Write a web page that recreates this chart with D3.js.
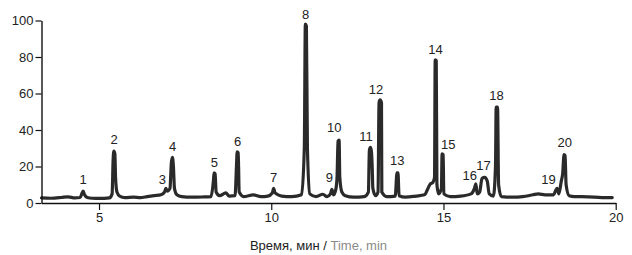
<!DOCTYPE html>
<html><head><meta charset="utf-8">
<script src="https://cdn.jsdelivr.net/npm/d3@7"></script>
<style>body{margin:0;background:#fff}svg{display:block}</style>
</head><body>
<svg id="c" width="632" height="255"></svg>
<script>
// Trace (time in min, relative intensity)
const traceTime = [3.33,3.6,3.9,4.1,4.3,4.45,4.51,4.54,4.58,4.66,4.8,5.0,5.3,5.38,5.41,5.43,5.46,5.48,5.52,5.6,5.75,6.0,6.2,6.4,6.6,6.8,6.9,6.94,6.98,7.06,7.10,7.13,7.16,7.19,7.26,7.4,7.7,8.0,8.25,8.32,8.34,8.37,8.40,8.5,8.68,8.78,8.95,8.99,9.01,9.04,9.07,9.2,9.48,9.7,9.9,10.03,10.07,10.11,10.3,10.6,10.88,10.96,10.99,11.02,11.05,11.12,11.3,11.5,11.62,11.72,11.76,11.81,11.88,11.91,11.94,11.97,11.99,12.05,12.15,12.4,12.7,12.82,12.85,12.88,12.91,12.93,12.95,13.03,13.1,13.13,13.16,13.2,13.21,13.35,13.6,13.65,13.68,13.71,13.9,14.2,14.45,14.55,14.62,14.68,14.74,14.76,14.79,14.81,14.86,14.94,14.96,14.99,15.01,15.2,15.5,15.8,15.9,15.94,15.98,16.05,16.12,16.2,16.27,16.33,16.45,16.51,16.53,16.57,16.6,16.68,17.0,17.3,17.6,17.75,17.95,18.2,18.26,18.3,18.35,18.42,18.46,18.5,18.53,18.56,18.65,18.8,19.2,19.6,19.9];
const traceValue = [2.8,2.6,3.0,3.4,2.8,3.0,5.5,6.5,4.5,3.0,2.6,2.5,2.8,5,24,28.5,27,14,6,3.8,3,3.2,3.0,3.5,4.0,4.5,6,8,6.5,8,22,25,20,8,4.5,3.5,3.2,3.3,3.5,12,16.5,16,6,4,5.5,3.8,4,20,28,27.5,6,3.5,4.5,3.5,3.8,5.5,8,5.5,3.8,3.5,4.5,30,98,97,30,5,3.5,4.8,3.5,5,7.5,4.5,8,14,34,34.5,14,6,4,3.2,3.5,6,29,30.5,28,20,8,4,6,55,56.5,55,6,3.5,3.8,16.5,16.5,4,3.2,3.8,4.5,8,10.5,11,14,78.5,78,10,5,8,27,26.5,5,3.5,3.8,5,8,10.5,5,6,13.5,14,12,5,3.8,20,52.5,52.5,10,3.5,3.2,3.5,4.5,5,4.5,4.5,7,8,5,12,16,26.5,26,10,4,3.5,3.4,3.0,3.0];

// Peak labels
const peakLabels = ["1","2","3","4","5","6","7","8","9","10","11","12","13","14","15","16","17","18","19","20"];
const labelTime  = [4.54,5.44,6.84,7.14,8.35,9.02,10.07,11.0,11.69,11.83,12.75,13.04,13.66,14.77,15.14,15.76,16.16,16.54,18.05,18.52];
const labelValue = [10.2,32.2,10.2,28.6,19.8,31.3,11.6,100.9,11.6,39,33.9,60,20.8,81.8,29.5,12.6,18,56.3,10.2,30.8];

const xTicks = [5,10,15,20];
const yTicks = [0,20,40,60,80,100];

const svg = d3.select("#c");
const x = d3.scaleLinear().domain([3.33,20]).range([41.5,615.7]);
const y = d3.scaleLinear().domain([0,100]).range([203,20.5]);

const defs = svg.append("defs");
defs.append("filter").attr("id","blur").append("feGaussianBlur").attr("stdDeviation",0.5);

const data = traceTime.map((t,i)=>[t,traceValue[i]]);
const line = d3.line().x(d=>x(d[0])).y(d=>y(d[1])).curve(d3.curveMonotoneX);
svg.append("path").datum(data).attr("d",line)
  .attr("fill","none").attr("stroke","#2b2b2b").attr("stroke-width",3.2)
  .attr("stroke-linejoin","round").attr("stroke-linecap","round")
  .attr("filter","url(#blur)");

const font = "Liberation Sans, Arial, sans-serif";

const xa = svg.append("g").attr("transform","translate(0,203)")
  .call(d3.axisBottom(x).tickValues(xTicks).tickSize(7).tickPadding(3).tickSizeOuter(0));
const ya = svg.append("g").attr("transform","translate(41.5,0)")
  .call(d3.axisLeft(y).tickValues(yTicks).tickSize(6).tickPadding(2).tickSizeOuter(0));
[xa,ya].forEach(g=>{
  g.select(".domain").attr("stroke","#111").attr("stroke-width",1.4);
  g.selectAll(".tick line").attr("stroke","#111").attr("stroke-width",1.2);
  g.selectAll(".tick text").attr("font-family",font).attr("font-size",13).attr("fill","#222");
});

svg.append("g").selectAll("text").data(peakLabels).join("text")
  .attr("x",(d,i)=>x(labelTime[i])).attr("y",(d,i)=>y(labelValue[i]))
  .attr("text-anchor","middle").attr("font-family",font).attr("font-size",13).attr("fill","#222")
  .text(d=>d);

const title = svg.append("text").attr("x",318.5).attr("y",250).attr("text-anchor","middle")
  .attr("font-family",font).attr("font-size",13);
title.append("tspan").attr("fill","#222").text("Время, мин / ");
title.append("tspan").attr("fill","#8a8a8a").text("Time, min");
</script>
</body></html>
